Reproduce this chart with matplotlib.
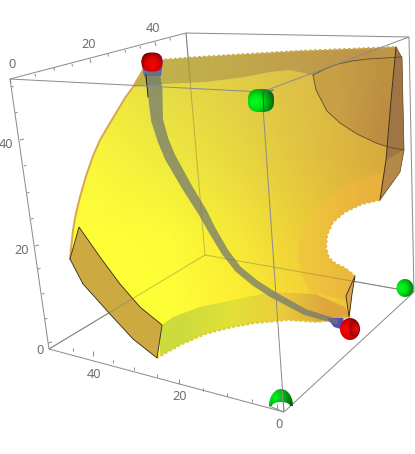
import numpy as np
import matplotlib
matplotlib.use("Agg")
import matplotlib.pyplot as plt
from matplotlib.colors import LinearSegmentedColormap
from matplotlib.patches import Polygon

plt.rcParams['font.family'] = ['Noto Sans', 'DejaVu Sans']

# box corners, picture pixels
top_left = (10, 79)
top_back = (186, 33)
top_right = (409, 37)
top_front = (262, 92)
bot_left = (49, 349)
bot_back = (205, 255)
bot_right = (414, 292)
bot_front = (284, 412)

# tick marks along the three labelled edges
top_major = [(10, 79), (90, 59), (155, 42)]
top_minor = [(35, 74), (54, 68), (72, 64), (108, 54), (125, 50), (140, 46), (170, 38)]
left_major = [(20, 140), (35, 246), (48, 343)]
left_minor = [(11, 87), (15, 113), (24, 166), (27, 193), (31, 219), (38, 269), (42, 294), (45, 319)]
bottom_major = [(93, 356), (179, 384), (277, 409)]
bottom_minor = [(73, 351), (113, 363), (134, 370), (157, 377), (203, 391), (227, 396), (252, 402)]

tick_labels = ["0", "20", "40", "40", "20", "0", "40", "20", "0"]
label_x = [12, 89, 153, 6, 22, 40, 94, 180, 279]
label_y = [64, 45, 28, 145, 251, 350, 374, 397, 424]

# yellow sheet outline
sheet_x = [143, 160, 200, 250, 300, 350, 396, 402, 404, 400, 380, 362, 345, 333, 327, 326, 329, 336,
           345, 355, 352, 350, 318, 288, 255, 232, 205, 180, 157, 162, 140, 120, 100, 79, 70,
           73, 76, 80, 86, 93, 100, 110, 125, 133]
sheet_y = [70, 60, 57, 54, 51, 49, 47, 58, 150, 172, 200, 204, 212, 222, 235, 248, 258, 264,
           268, 276, 294, 317, 322, 320, 323, 327, 334, 345, 358, 325, 307, 284, 257, 227, 259,
           230, 213, 197, 176, 156, 140, 123, 98, 87]

# darker band under the top edge
top_band_x = [143, 160, 200, 250, 300, 350, 396, 402, 368, 338, 313, 290, 270, 245, 205, 165, 133]
top_band_y = [70, 60, 57, 54, 51, 49, 47, 57, 59, 64, 75, 70, 72, 77, 82, 84, 87]

# band over the bottom edge
low_band_x = [162, 173, 200, 238, 272, 315, 345, 350, 318, 288, 255, 232, 205, 180, 157]
low_band_y = [325, 317, 307, 299, 292, 294, 307, 317, 322, 320, 323, 327, 334, 345, 358]

# ring round the hole
ring_x = [382, 360, 338, 320, 306, 299, 298, 302, 310, 345, 355, 345, 336, 329, 326, 327, 333, 345, 362, 380]
ring_y = [173, 178, 190, 206, 226, 242, 257, 274, 292, 300, 276, 268, 264, 258, 248, 235, 222, 212, 204, 200]

# corner patch and side face
patch_x = [313, 325, 338, 352, 368, 402, 404, 388, 376, 357, 340, 327, 316]
patch_y = [75, 69, 64, 61, 59, 57, 150, 147, 143, 134, 123, 111, 90]
side_x = [396, 402, 404, 400, 380, 386, 391]
side_y = [47, 58, 150, 172, 200, 160, 100]

# tan end faces
left_face_x = [157, 162, 140, 120, 100, 79, 70, 83, 110, 133]
left_face_y = [358, 325, 307, 284, 257, 227, 259, 284, 314, 339]
right_face_x = [355, 346, 349, 352]
right_face_y = [276, 296, 317, 294]

# grey tube, centre line and width
tube_x = [151, 155, 157, 163, 170, 187, 203, 212, 225, 238, 255, 272, 305, 338]
tube_y = [68, 90, 120, 140, 157, 187, 213, 230, 252, 269, 283, 294, 312, 322]
tube_w = [16, 15, 12, 11, 11, 10, 9, 8, 7.5, 7, 7, 7, 6, 5]

# sheet colours on a coarse grid
sheet_colors = [
    [(240, 235, 60), (228, 218, 70), (225, 205, 70), (220, 190, 70), (215, 170, 65)],
    [(250, 245, 60), (240, 234, 62), (232, 215, 65), (226, 192, 65), (215, 170, 60)],
    [(255, 255, 55), (253, 253, 55), (246, 232, 55), (236, 202, 55), (230, 180, 55)],
    [(255, 255, 55), (255, 255, 55), (255, 240, 50), (246, 212, 55), (235, 185, 55)],
]

# ball centres and radii
red_top = (152, 62, 10.5, 9.5)
red_low = (350, 329, 10, 11)
green_mid = (261, 100.5, 13, 11.5)
green_right = (405, 288, 8.5, 9)
green_low = (281, 406, 12, 17)

fig = plt.figure(figsize=(4.15, 4.54), dpi=100)
ax = fig.add_axes([0, 0, 1, 1])
px = 0.72  # one pixel in points


def grid_fill(xs, ys, colors, extent, z):
    clip = Polygon(np.column_stack([xs, ys]), closed=True, fc='none', ec='none', transform=ax.transData)
    ax.add_patch(clip)
    im = ax.imshow(np.array(colors) / 255, extent=extent, aspect='auto', interpolation='bilinear', zorder=z)
    im.set_clip_path(clip)


def ball(xs, ys, centre, radius, cols, z):
    clip = Polygon(np.column_stack([xs, ys]), closed=True, fc='none', ec='none', transform=ax.transData)
    ax.add_patch(clip)
    gx, gy = np.meshgrid(np.linspace(min(xs) - 1, max(xs) + 1, 60), np.linspace(min(ys) - 1, max(ys) + 1, 60))
    rr = np.hypot(gx - centre[0], gy - centre[1]) / radius
    cmap = LinearSegmentedColormap.from_list('b', cols)
    im = ax.imshow(rr, cmap=cmap, vmin=0, vmax=1, zorder=z, aspect='auto', interpolation='bilinear',
                   extent=(min(xs) - 1, max(xs) + 1, max(ys) + 1, min(ys) - 1))
    im.set_clip_path(clip)


def outline(spec, power=2.0):
    cx, cy, rx, ry = spec
    t = np.linspace(0, 2 * np.pi, 60)
    c, s = np.cos(t), np.sin(t)
    return cx + rx * np.sign(c) * np.abs(c) ** (2 / power), cy + ry * np.sign(s) * np.abs(s) ** (2 / power)


def seg(a, b, **kw):
    ax.plot([a[0], b[0]], [a[1], b[1]], solid_capstyle='butt', **kw)


grey = '#8c8c8c'
# back edges
for a, b in [(top_left, top_back), (top_back, top_right), (top_back, bot_back), (bot_back, bot_left), (bot_back, bot_right)]:
    seg(a, b, color=grey, lw=px, zorder=1)

# sheet
grid_fill(sheet_x, sheet_y, sheet_colors, (60, 420, 360, 40), 2)
grid_fill(ring_x, ring_y, [[(240, 198, 60), (236, 186, 60), (232, 178, 60)]] * 2, (295, 385, 300, 170), 3)
grid_fill(top_band_x, top_band_y, [[(192, 178, 75), (192, 170, 75), (192, 158, 75), (190, 148, 70)]] * 2, (130, 400, 90, 45), 3)
grid_fill(low_band_x, low_band_y, [[(205, 220, 60), (225, 225, 55), (235, 205, 60), (222, 165, 62)]] * 2, (160, 350, 360, 290), 3)
grid_fill(patch_x, patch_y, [[(200, 160, 70), (190, 145, 65)], [(205, 160, 70), (188, 140, 65)]], (313, 404, 150, 57), 3)
ax.fill(side_x, side_y, color='#9f7545', lw=0, zorder=4)
ax.fill(side_x[2:6], side_y[2:6], color='#b48845', lw=0, zorder=4)

# jagged cut edges
teeth = dict(lw=2.2 * px, linestyle=(0, (1.1, 1.1)), zorder=3)
ax.plot(sheet_x[:7], sheet_y[:7], color='#c8ac55', **teeth)
ax.plot(sheet_x[10:20], sheet_y[10:20], color='#e8b445', **teeth)
ax.plot(sheet_x[21:29], sheet_y[21:29], color='#dcc83c', **teeth)

# orange rim on the outer arc
ax.plot(sheet_x[34:] + sheet_x[:1], sheet_y[34:] + sheet_y[:1], color='#d8a850', lw=2 * px, zorder=4)

# tan ends
ax.fill(left_face_x, left_face_y, fc='#cdaa41', ec='#3a3020', lw=0.9 * px, zorder=5)
ax.fill(right_face_x, right_face_y, fc='#d8a650', ec='#3a3020', lw=0.9 * px, zorder=5)

# thin dark lines at the far end
dark = dict(color='#5a4a28', lw=0.8 * px, zorder=5)
ax.plot(patch_x[:6], patch_y[:6], **dark)
ax.plot(patch_x[6:] + patch_x[:1], patch_y[6:] + patch_y[:1], **dark)
ax.plot([396, 391, 386, 380], [47, 100, 160, 200], color='#3a3020', lw=0.9 * px, zorder=5)
ax.plot([396, 402, 404, 400, 380], [47, 58, 150, 172, 200], color='#6a5230', lw=0.7 * px, zorder=5)

# back edges show faintly through the sheet
for a, b in [(top_back, bot_back), (bot_back, bot_left), (bot_back, bot_right)]:
    seg(a, b, color='#6f6a40', lw=px, alpha=0.4, zorder=6)

# blue tips
ax.fill([141, 163, 161, 144], [60, 60, 76, 76], color='#5a62c8', lw=0, zorder=6)
ax.fill([327, 343, 347, 334], [318, 318, 331, 327], color='#4a50b8', lw=0, zorder=6)

# tube
cx, cy, half = np.array(tube_x, float), np.array(tube_y, float), np.array(tube_w) / 2
dx, dy = np.gradient(cx), np.gradient(cy)
n = np.hypot(dx, dy)
left_edge = np.column_stack([cx - dy / n * half, cy + dx / n * half])
right_edge = np.column_stack([cx + dy / n * half, cy - dx / n * half])
ax.fill(*np.vstack([left_edge, right_edge[::-1]]).T, color='#6f7670', alpha=0.72, lw=0, zorder=7)
ax.plot([146, 148], [75, 97], color='#1c1c10', lw=0.9 * px, zorder=8)

# front edges
for a, b in [(top_left, top_front), (top_right, top_front), (top_front, bot_front), (top_left, bot_left),
             (bot_left, bot_front), (bot_front, bot_right), (bot_right, top_right)]:
    seg(a, b, color=grey, lw=px, zorder=9)

# ticks
for a in top_major:
    seg(a, (a[0] + 1, a[1] + 4), color=grey, lw=px, zorder=9)
for a in top_minor:
    seg(a, (a[0] + 0.6, a[1] + 2.5), color=grey, lw=px, zorder=9)
for a in left_major:
    seg(a, (a[0] + 4, a[1] - 1), color=grey, lw=px, zorder=9)
for a in left_minor:
    seg(a, (a[0] + 2.5, a[1] - 0.6), color=grey, lw=px, zorder=9)
for a in bottom_major:
    seg(a, (a[0], a[1] - 5), color=grey, lw=px, zorder=9)
for a in bottom_minor:
    seg(a, (a[0], a[1] - 3), color=grey, lw=px, zorder=9)

for t, x, y in zip(tick_labels, label_x, label_y):
    ax.text(x, y, t, color='#6e6e6e', fontsize=9.2, ha='center', va='center', zorder=10)

# balls
red = ['#f40a0a', '#ea0000', '#c80000', '#700000']
green = ['#00ff20', '#00e818', '#00a812', '#0a5a10']
xs, ys = outline(red_top, 2.6)
ball(xs, ys, (152, 65), 13, red, 11)
xs, ys = outline(red_low)
ball(xs, ys, (346, 330), 15, red, 11)
xs, ys = outline((354, 329, 5, 8))
ball(xs, ys, (357, 329), 8, ['#e81010', '#c80808', '#a00404'], 12)
xs, ys = outline(green_mid, 2.8)
ball(xs, ys, (256, 102), 19, green, 11)
seg((263, 92), (274, 90), color='#5a6a5a', lw=px, zorder=13)
seg((263, 92), (264, 112), color='#2a5a2a', lw=px, zorder=13)
xs, ys = outline(green_right)
ball(xs, ys, (401, 288), 14, green, 11)

# the low green ball only shows as a cap
t = np.linspace(np.pi, 2 * np.pi, 24)
cap_x = np.r_[green_low[0] + green_low[2] * np.cos(t), green_low[0] + 9 * np.cos(t[::-1])]
cap_y = np.r_[green_low[1] + green_low[3] * np.sin(t), green_low[1] + 4 * np.sin(t[::-1])]
ball(cap_x, cap_y, (275, 397), 20, ['#00f020', '#00c818', '#009010', '#0a5010'], 11)
seg((282, 390), (284, 412), color=grey, lw=px, zorder=13)
seg((269, 406), (284, 412), color=grey, lw=px, zorder=13)

ax.set_xlim(0, 415)
ax.set_ylim(454, 0)
ax.axis('off')
fig.savefig('out.png', dpi=100)
